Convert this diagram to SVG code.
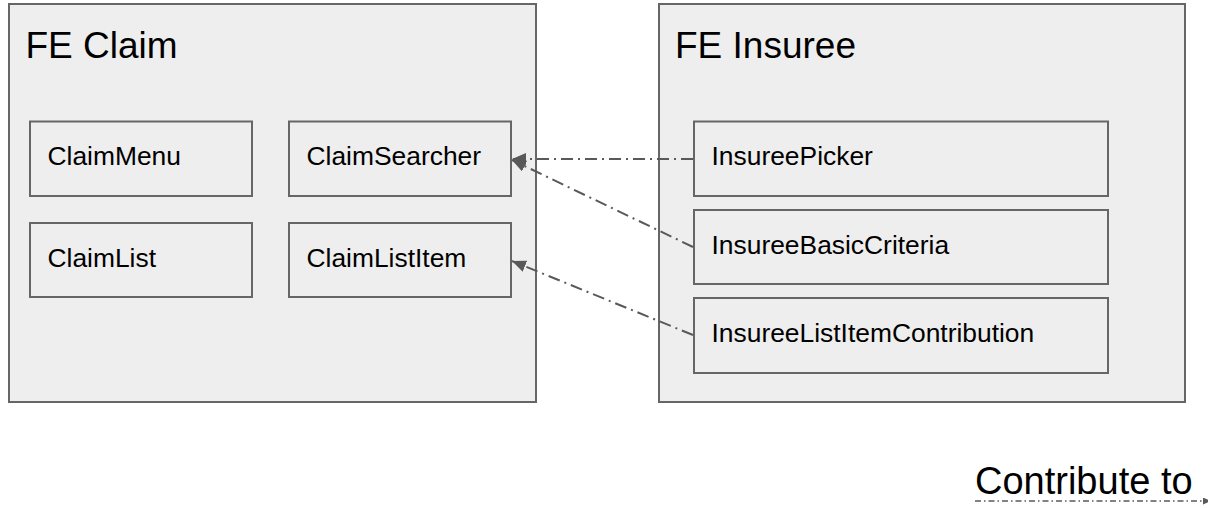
<svg xmlns="http://www.w3.org/2000/svg" width="1208" height="508" viewBox="0 0 1208 508">
  <style>
    .module { fill: #eeeeee; stroke: #666666; stroke-width: 2; }
    .comp { fill: #eeeeee; stroke: #666666; stroke-width: 2; }
    .title { font-family: "Liberation Sans", Arial, sans-serif; font-size: 37px; fill: #000000; }
    .label { font-family: "Liberation Sans", Arial, sans-serif; font-size: 26.4px; fill: #000000; }
    .legend { font-family: "Liberation Sans", Arial, sans-serif; font-size: 38px; fill: #000000; }
    .dep { fill: none; stroke: #595959; stroke-width: 2; stroke-dasharray: 12 5 2 5; }
    .dep-key { fill: none; stroke: #595959; stroke-width: 1.4; stroke-dasharray: 6 3 1.5 3; }
  </style>
  <defs>
    <marker id="arrow" markerUnits="userSpaceOnUse" markerWidth="15" markerHeight="13" refX="14" refY="6" orient="auto">
      <path d="M0,0 L14,6 L0,12 Z" fill="#595959"/>
    </marker>
    <marker id="arrow-small" markerUnits="userSpaceOnUse" markerWidth="9" markerHeight="8" refX="8" refY="3.5" orient="auto">
      <path d="M0,0 L8,3.5 L0,7 Z" fill="#595959"/>
    </marker>
  </defs>

  <rect width="1208" height="508" fill="#ffffff"/>

  <!-- FE Claim module -->
  <g id="fe-claim">
    <rect class="module" x="9" y="4" width="527" height="398"/>
    <text class="title" x="25.5" y="58">FE Claim</text>
  </g>
  <g id="claim-menu">
    <rect class="comp" x="30" y="121.5" width="222" height="74.5"/>
    <text class="label" x="47.5" y="165">ClaimMenu</text>
  </g>
  <g id="claim-searcher">
    <rect class="comp" x="289" y="121.5" width="222" height="74.5"/>
    <text class="label" x="306.5" y="165">ClaimSearcher</text>
  </g>
  <g id="claim-list">
    <rect class="comp" x="30" y="223" width="222" height="74"/>
    <text class="label" x="47.5" y="267">ClaimList</text>
  </g>
  <g id="claim-list-item">
    <rect class="comp" x="289" y="223" width="222" height="74"/>
    <text class="label" x="306.5" y="267">ClaimListItem</text>
  </g>

  <!-- FE Insuree module -->
  <g id="fe-insuree">
    <rect class="module" x="659" y="4" width="526" height="398"/>
    <text class="title" x="675" y="58">FE Insuree</text>
  </g>
  <g id="insuree-picker">
    <rect class="comp" x="694" y="121.5" width="414" height="74.5"/>
    <text class="label" x="711.5" y="165">InsureePicker</text>
  </g>
  <g id="insuree-basic-criteria">
    <rect class="comp" x="694" y="210" width="414" height="74"/>
    <text class="label" x="711.5" y="254">InsureeBasicCriteria</text>
  </g>
  <g id="insuree-list-item-contribution">
    <rect class="comp" x="694" y="298" width="414" height="75"/>
    <text class="label" x="711.5" y="342">InsureeListItemContribution</text>
  </g>

  <!-- contribution links -->
  <g id="connectors">
    <line class="dep" x1="693" y1="159" x2="512" y2="159" marker-end="url(#arrow)"/>
    <line class="dep" x1="693" y1="247" x2="512" y2="160" marker-end="url(#arrow)"/>
    <line class="dep" x1="693" y1="335" x2="512" y2="261" marker-end="url(#arrow)"/>
  </g>

  <!-- key -->
  <g id="legend">
    <text class="legend" x="975" y="494">Contribute to</text>
    <line class="dep-key" x1="975" y1="501" x2="1211" y2="501" marker-end="url(#arrow-small)"/>
  </g>
</svg>
